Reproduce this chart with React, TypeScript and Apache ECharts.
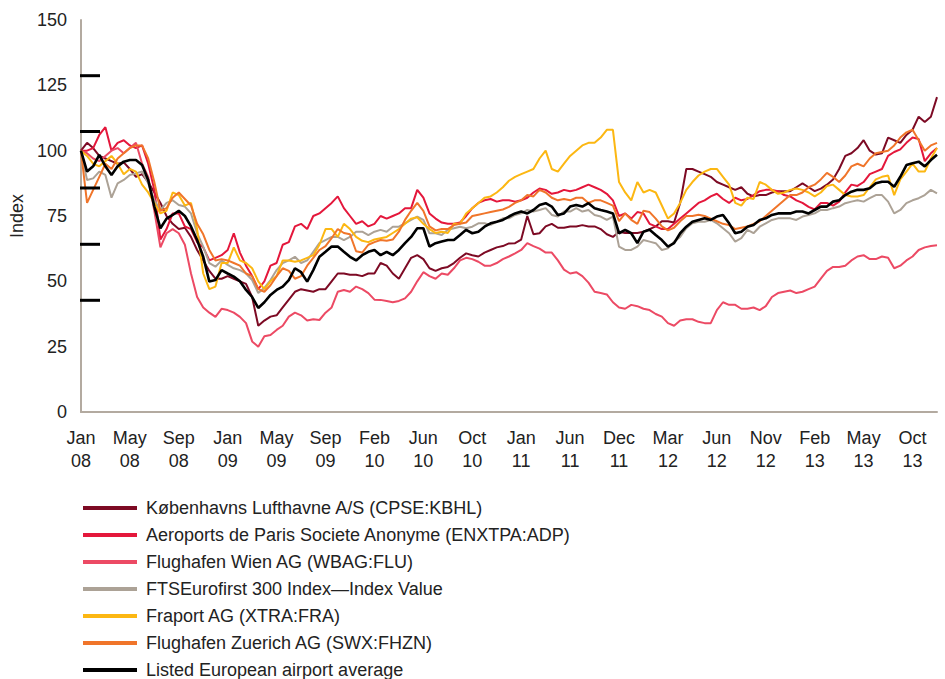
import React, { useEffect, useRef } from "react";
import * as echarts from "echarts";

const tickLabels = ["Jan 08","May 08","Sep 08","Jan 09","May 09","Sep 09","Feb 10","Jun 10","Oct 10","Jan 11","Jun 11","Dec 11","Mar 12","Jun 12","Nov 12","Feb 13","May 13","Oct 13"];
const yTicks = [0, 25, 50, 75, 100, 125, 150];

// readings on the tick grid (4 per label interval) and readings half-way between them
const kbhlA = [100,101,97,95,93,91,84,75,70,67,58,51,52,50,44,35,37,43,47, 46,47,53,52.5,52,53,56,51,59,58.5,54,55.5,59,60,61,63,64.5,66, 68,71,70.5,71,71.5,71,68,69,68.5,69,71,73,80,93,91,88,86, 86,82.5,83,84.5,84.5,87.5,84.5,87,93,99,104,98.5,105,103,108,111,120.5];
const kbhlB = [103,98,96,95.5,90,88,80,72,70.5,62,54,51,51,49,33,36.5,40,46,46.5, 47,50,53,52.5,53,57,53,55,60,55,55,57,60.7,59.5,62,63.5,64.6,75, 68.4,72,70.5,71,71,70,67,68.5,68.5,70,73,72.5,93,92,90,87, 85,83.5,83,84,84.5,86,86,85.5,89,98,101,100,99,104,106,113,113];
const adpA = [100,101,109,103,102,102,85,70,76,70,63,59,62,61,52,50,57,65,72, 75,78,82.5,75,73,72,74,76,78,82,74,72,72.5,78,81,80.5,81,81, 84,85,84,84.5,86,86,83.5,75,74,76,71,70,74,78,81,83.5,80, 81,83,85,84.5,82.5,80,77.5,80,80.5,87,88,92,98,100.5,105,96,101];
const adpB = [100,106,100,104,101,95,66,76,71,65,58,60,68.4,56,47,56,64,71,70, 76,80,78,72,71,75,75,78,85,76,72.5,72,75,80,81.5,81,80.5,82, 85.5,83.5,85,85,87,85,81,76,76.5,72,70,72,76,80,82.5,81.5, 82,81.5,84.5,85,83,81,78.5,80,79,84,86.5,91,93,99.5,103,104.5,99];
const wienA = [100,97,98,101,101,95,77,68.4,68.4,53,40,36.4,39,36.4,27,29,31.4,36.5,37, 35.5,38,46,46,47,43,42.5,42.5,46,53.5,51,52.5,58,58.5,56,57,59.5,62, 63.5,61,58,53,52,46,45,40,41,39.5,37.5,34,35,35.5,34,39,41, 39.5,40,40.5,45.5,46.5,46,48,54,55.5,58,60,58.5,59,56,59.5,63,63.8];
const wienB = [99,96,100,99,103,90,63,70,64,44,38,39.5,38,34,25,29.5,33,38,35, 35.2,40,46.7,48,45.5,42.9,42,43.5,50,52,53,55,59,57.5,56,58.5,60.7,64.6, 62.5,61,54.5,53.5,49.5,45.5,42,39.5,40.5,39,36.5,33,35.5,34.5,34,42, 41,39.5,39,44,46,45.5,47,51,55.5,56,59.5,58.5,59.5,55,58,62,63.5];
const ftseA = [100,89.4,90.7,87.5,90.7,92,81,80,79.2,76,63.3,55.6,56.3,54.3,50.5,47.5,54.3,58,57, 61.3,65.8,67,67,69,69,69,70.9,73.5,73.5,68.4,69.7,70.9,70.9,72.2,72.8,74.1,76, 76.7,78,74.8,76.7,76.7,75.4,73.5,63.3,62,65.8,64.6,62.6,67,72.2,72.8,72.2,68.4, 66.5,68.4,72.2,74.1,74.1,74.8,76,77.3,78.6,80.5,80.5,83,80.5,77.3,81,83,83.7];
const ftseB = [88.8,92,82,88.8,91.3,87.5,77.3,81,78.6,68.4,57,58,55,53,45.5,50.5,57,59.4,58, 64.6,67,65.8,69,67.7,69.7,70.9,72.2,74.8,68.4,67.7,70.3,70.3,72.2,71.6,74.1,75.4,77.3, 77.3,75.4,76.7,78,77.3,74.8,74.8,62,63.3,65.2,62,65.2,70.3,72.8,73.5,70.3, 65.2,69.7,70.9,73.5,74.1,73.5,75.4,77.3,78,79.9,81,81.8,83,76,79.9,81.8,85];
const fraportA = [100,95,96,95,93,87,80,77,83,80,53,48,57,58,55,47,52,58,58, 60,70,67,70,65.5,66,67,70,74,72,68.5,68.5,72,78,82,84,88.5,91, 93,100,92,98,102,103,108,88,81,84,84,74,80,88,92,93,87, 79,81.5,87,83.5,85,85,82.5,86.5,85,82.5,83,89,90.5,89,95,92,101];
const fraportB = [98,94,98,91,92,84,76,84,79,70,47,57,63,57,50,50,58,57.5,59, 64,70,72,67,65,66.5,68.5,72,74.5,70,69,72,76,80,82.5,86,90,92, 97,93,95,100,103,105,108,84,88,85,79,76,85,90.5,93,90, 80,82,88,85,84,85.5,84,84,87,83,82.5,86,90,83,92,92,97];
const zurichA = [100,85,95,97,101,102,88,78,84,79,68,58,58,56,52,46,52,54,52, 59,63.5,70,68,61,65,65.5,69,77,77,69.5,70,72,75,76,77,78.5,81, 82.5,84,81,81,82,81,80,73,73.5,77,74,69.5,73,75,75,73,71.5, 70.5,72,75,79,83,84,87,91.5,88,94,94,99,100,105,108,100,103];
const zurichB = [80,90,93,99,102,97,77,82,81.5,72,62,58.5,57,53,47,48.5,55,51,56, 62,66.5,68.5,61.5,64,65.8,66,73.5,80,71,70,71.5,72.5,75.5,76.5,77.5,80,83, 85,82,81.5,82,80,81,79,76,72,76.5,71,70.5,75,75.5,74,72, 70,71,73,77,81,83,86,89,90,90.5,95,97,99.5,102,107,104,102];
const averageA = [100,94,94,94,96.4,94.5,78.6,74,77,71,59.4,50.5,53,50,44,42,46.7,50.5,53.5, 54.3,61.3,63.3,59.4,60,62,61.3,62,67,70.3,64.6,65.8,67.7,68.4,70.9,72.8,74.8,76.7, 77.3,79.9,75.4,78.6,78.6,78,76.7,68.4,68.4,69,67.7,63.3,68.4,72.8,74.1,74.8,72.2, 69,71.6,74.1,76,76,76.7,77.3,78.6,81,84.3,85,87.5,88.1,90,95.2,94,98.4];
const averageB = [92,98.4,90.7,95.8,96.4,88.8,70.3,75.4,75,65.8,49.9,54.3,51.8,46.7,39.8,44.8,48,55,49.9, 59.4,63.3,61.3,58,61.3,60,60,64.6,70.3,63.3,65.2,65.8,69.7,69,72.2,73.5,76,76, 79.2,78.6,76,79.2,79.9,77.3,76,69.7,64.6,69.7,65.8,64.6,70.9,73.5,73.5,75.4, 68.4,70.9,73.5,75.4,76,76.7,76,78.6,80.5,83,85,85.6,88.1,86.2,94.5,95.8,96.4];

function weave(a: number[], b: number[]): number[] {
  const out: number[] = [];
  a.forEach((v, i) => {
    out.push(v);
    if (i < b.length) out.push(b[i]);
  });
  return out;
}

const seriesNames = [
  "Københavns Lufthavne A/S (CPSE:KBHL)",
  "Aeroports de Paris Societe Anonyme (ENXTPA:ADP)",
  "Flughafen Wien AG (WBAG:FLU)",
  "FTSEurofirst 300 Index—Index Value",
  "Fraport AG (XTRA:FRA)",
  "Flughafen Zuerich AG (SWX:FHZN)",
  "Listed European airport average",
];
const seriesData = [
  weave(kbhlA, kbhlB),
  weave(adpA, adpB),
  weave(wienA, wienB),
  weave(ftseA, ftseB),
  weave(fraportA, fraportB),
  weave(zurichA, zurichB),
  weave(averageA, averageB),
];
const seriesColors = ["#7d0a24", "#e4173b", "#ec4a64", "#aca296", "#fcb712", "#f0752a", "#000000"];

const FONT = "'Liberation Sans', Arial, Helvetica, sans-serif";

export default function App() {
  const ref = useRef<HTMLDivElement>(null);
  useEffect(() => {
    document.body.style.margin = "0";
    document.body.style.overflow = "hidden";
    if (!ref.current) return;
    const chart = echarts.init(ref.current, null, { renderer: "svg" });
    const n = seriesData[0].length;
    const categories: string[] = [];
    for (let i = 0; i < n; i++) {
      const k = Math.floor(i / 8);
      categories.push(i % 8 === 0 && k < tickLabels.length ? tickLabels[k] : `${tickLabels[Math.min(k, tickLabels.length - 1)]} +${i % 8 || 8}`);
    }
    const markLines = [75.7, 131.5, 188, 244.3, 300.3].map((y) => ({
      type: "line",
      shape: { x1: 80, y1: y, x2: 100, y2: y },
      style: { stroke: "#000", lineWidth: 3 },
      z: 10,
    }));
    chart.setOption({
      animation: false,
      textStyle: { fontFamily: FONT },
      grid: { left: 80, right: 8, top: 20, bottom: 267, containLabel: false },
      xAxis: {
        type: "category",
        data: categories,
        boundaryGap: false,
        axisLine: { lineStyle: { color: "#b3aaa0", width: 2 } },
        axisTick: { show: false },
        axisLabel: {
          interval: 7,
          color: "#222",
          fontSize: 18,
          lineHeight: 23,
          margin: 14,
          fontFamily: FONT,
          formatter: (v: string) => (v.includes("+") ? "" : v.replace(" ", "\n")),
        },
        splitLine: { show: false },
      },
      yAxis: {
        type: "value",
        min: 0,
        max: 150,
        interval: 25,
        name: "Index",
        nameLocation: "middle",
        nameGap: 52,
        nameTextStyle: { color: "#222", fontSize: 18, fontFamily: FONT },
        axisLine: { show: true, lineStyle: { color: "#b3aaa0", width: 2 } },
        axisTick: { show: false },
        splitLine: { show: false },
        axisLabel: {
          color: "#222",
          fontSize: 18,
          margin: 14,
          fontFamily: FONT,
          formatter: (v: number) => (yTicks.includes(v) ? String(v) : ""),
        },
      },
      legend: {
        orient: "vertical",
        left: 83,
        top: 499,
        height: 220,
        padding: 0,
        itemWidth: 54,
        itemHeight: 4,
        itemGap: 9,
        icon: "rect",
        textStyle: { fontSize: 18, color: "#222", lineHeight: 18, fontFamily: FONT, padding: [0, 0, 0, 4] },
        data: seriesNames,
      },
      graphic: markLines,
      series: seriesNames.map((name, i) => ({
        name,
        type: "line",
        data: seriesData[i],
        showSymbol: false,
        symbol: "none",
        lineStyle: { color: seriesColors[i], width: i === 6 ? 2.6 : 2 },
        itemStyle: { color: seriesColors[i] },
        z: 2 + i,
      })),
    });
    return () => chart.dispose();
  }, []);
  return <div ref={ref} style={{ width: 945, height: 679 }} />;
}
